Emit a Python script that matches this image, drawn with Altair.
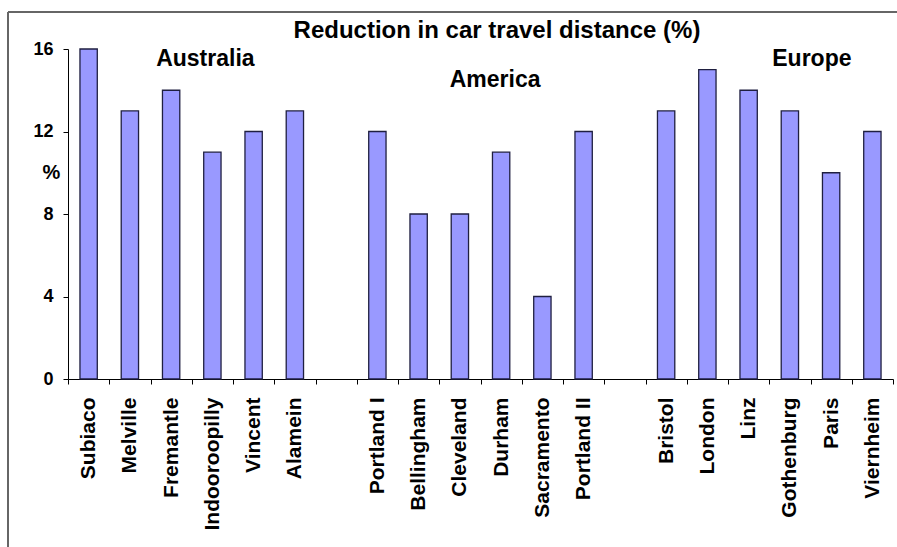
import altair as alt
import pandas as pd

cities = ["Subiaco", "Melville", "Fremantle", "Indooroopilly", "Vincent", "Alamein",
          "Portland I", "Bellingham", "Cleveland", "Durham", "Sacramento", "Portland II",
          "Bristol", "London", "Linz", "Gothenburg", "Paris", "Viernheim"]
values = [16, 13, 14, 11, 12, 13,
          12, 8, 8, 11, 4, 12,
          13, 15, 14, 13, 10, 12]
order = cities[:6] + [" "] + cities[6:12] + ["  "] + cities[12:]
y_ticks = [0, 4, 8, 12, 16]

groups = ["Australia", "America", "Europe"]
group_anchor = ["Indooroopilly", "Durham", "Gothenburg"]
title_text = "Reduction in car travel distance (%)"

FONT = "Liberation Sans"

df = pd.DataFrame({"city": cities, "value": values})

xscale = alt.Scale(domain=order, paddingInner=0, paddingOuter=0)
xenc = alt.X("city:N", sort=order, scale=xscale,
             axis=alt.Axis(title=None, labelAngle=-90, labelFont=FONT, labelFontSize=21,
                           labelFontWeight="bold", labelColor="black", tickBand="extent",
                           tickSize=5, tickColor="black", domainColor="black",
                           labelPadding=13, grid=False))
yenc = alt.Y("value:Q", scale=alt.Scale(domain=[0, 16], nice=False, zero=True),
             axis=alt.Axis(values=y_ticks, title="%", titleAngle=0, titleX=-17, titleY=123,
                           titleAlign="center", titleBaseline="middle", titleFontSize=20,
                           titleFont=FONT, titleFontWeight="bold", titleColor="black",
                           labelFont=FONT, labelFontSize=18, labelFontWeight="bold",
                           labelColor="black", labelPadding=10, tickSize=5,
                           tickColor="black", domainColor="black", grid=False))

bars = alt.Chart(df).mark_bar(width=alt.RelativeBandSize(0.42), color="#9999FF",
                              stroke="#1F1F40", strokeWidth=1.3).encode(x=xenc, y=yenc)

dxs = [-7, -6, 22]
ys = [17, 38, 17]
labels = []
for g, a, dx, yy in zip(groups, group_anchor, dxs, ys):
    labels.append(
        alt.Chart(pd.DataFrame({"city": [a], "label": [g]})).mark_text(
            font=FONT, fontSize=23, fontWeight="bold", color="black",
            align="center", baseline="alphabetic", dx=dx
        ).encode(x=alt.X("city:N", sort=order, scale=xscale), y=alt.value(yy), text="label:N")
    )

title = alt.Chart(pd.DataFrame({"t": [title_text]})).mark_text(
    font=FONT, fontSize=24, fontWeight="bold", color="black", align="center",
    baseline="alphabetic"
).encode(x=alt.value(429), y=alt.value(-11), text="t:N")

frame_top = alt.Chart(pd.DataFrame({"a": [0]})).mark_rule(color="#666666", strokeWidth=2).encode(
    x=alt.value(-60), x2=alt.value(840), y=alt.value(-37))
frame_left = alt.Chart(pd.DataFrame({"a": [0]})).mark_rule(color="#666666", strokeWidth=2).encode(
    x=alt.value(-60), y=alt.value(-37), y2=alt.value(520))

chart = alt.layer(frame_top, frame_left, bars, title, *labels).properties(
    width=825, height=330,
    padding={"left": 68, "top": 49, "right": 4, "bottom": 168},
    autosize=alt.AutoSizeParams(type="none"),
    background="white",
).configure_view(strokeWidth=0)

chart.save("out.html", embed_options={"renderer": "svg", "actions": False})
